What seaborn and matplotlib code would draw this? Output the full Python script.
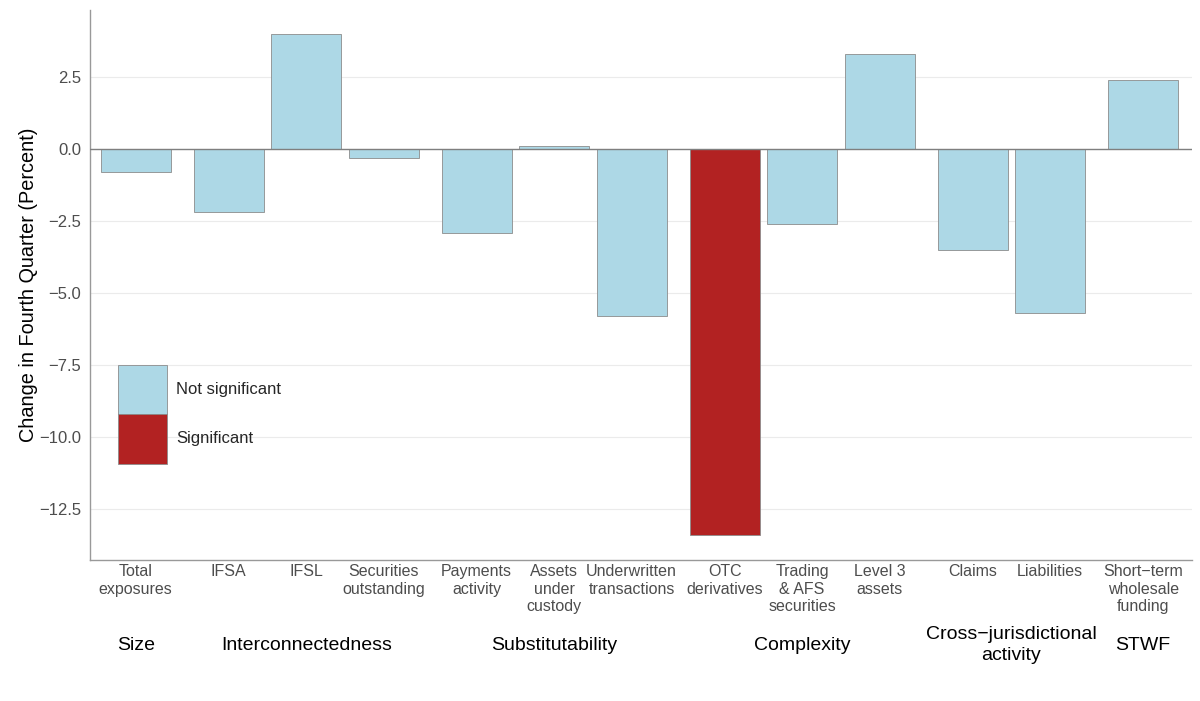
import numpy as np
import pandas as pd
import seaborn as sns
import matplotlib.pyplot as plt
from matplotlib.patches import Patch
from matplotlib import transforms

sns.set_theme(style='white')
plt.rcParams['font.family'] = ['Liberation Sans', 'DejaVu Sans']

categories = ['Total\nexposures', 'IFSA', 'IFSL', 'Securities\noutstanding',
              'Payments\nactivity', 'Assets\nunder\ncustody', 'Underwritten\ntransactions',
              'OTC\nderivatives', 'Trading\n& AFS\nsecurities', 'Level 3\nassets',
              'Claims', 'Liabilities', 'Short\u2212term\nwholesale\nfunding']
values = [-0.8, -2.2, 4.0, -0.3, -2.9, 0.1, -5.8, -13.4, -2.6, 3.3, -3.5, -5.7, 2.4]
significance = ['Not significant'] * 7 + ['Significant'] + ['Not significant'] * 5
group_of = [0, 1, 1, 1, 2, 2, 2, 3, 3, 3, 4, 4, 5]

groups = ['Size', 'Interconnectedness', 'Substitutability', 'Complexity',
          'Cross\u2212jurisdictional\nactivity', 'STWF']

yticks = [2.5, 0.0, -2.5, -5.0, -7.5, -10.0, -12.5]

colors = {'Not significant': '#ADD8E6', 'Significant': '#B22222'}

# small extra gap between indicator groups
gap = 0.2
pos = [i + gap * g for i, g in enumerate(group_of)]
df = pd.DataFrame({'pos': pos, 'cat': categories, 'val': values, 'sig': significance,
                   'grp': group_of})

fig = plt.figure(figsize=(12, 7.01), dpi=100)
ax = fig.add_axes([0.075, 0.2011, 0.9183, 0.7846])

ax.yaxis.grid(True, color='#EBEBEB', linewidth=0.8)
ax.set_axisbelow(True)
sns.barplot(data=df, x='pos', y='val', hue='sig', native_scale=True, dodge=False,
            palette=colors, saturation=1, edgecolor='#8C8C8C', linewidth=0.6,
            width=0.9, legend=False, ax=ax)
ax.axhline(0, color='#7F7F7F', linewidth=1.0, zorder=3)

ax.set_xlim(-0.59, 13.63)
ax.set_ylim(-14.27, 4.83)
ax.set_xticks(pos)
ax.set_xticklabels(categories)
ax.set_yticks(yticks)
ax.set_yticklabels([f'{t:.1f}'.replace('-', '\u2212') for t in yticks])
ax.tick_params(axis='x', length=0, labelsize=11.5, labelcolor='#4D4D4D', pad=3)
ax.tick_params(axis='y', length=0, labelsize=12, labelcolor='#4D4D4D', pad=6.5)
ax.set_xlabel('')
ax.set_ylabel('Change in Fourth Quarter (Percent)', fontsize=14.3, color='black')
ax.yaxis.set_label_coords(-0.047, 0.5)

for s in ['top', 'right']:
    ax.spines[s].set_visible(False)
for s in ['left', 'bottom']:
    ax.spines[s].set_color('#999999')
    ax.spines[s].set_linewidth(1.0)

trans = transforms.blended_transform_factory(ax.transData, ax.transAxes)
for g, name in enumerate(groups):
    members = df.loc[df['grp'] == g, 'pos']
    ax.text(members.mean(), -0.1545, name, transform=trans, ha='center', va='center',
            fontsize=14, color='black', linespacing=1.35)

handles = [Patch(facecolor=colors[k], edgecolor='#8C8C8C', linewidth=0.6) for k in colors]
ax.legend(handles, list(colors), loc='upper left', bbox_to_anchor=(0.0254, 0.3545),
          frameon=False, fontsize=12, handlelength=2.94, handleheight=4.17,
          labelspacing=0, handletextpad=0.54, borderpad=0, borderaxespad=0)

fig.savefig('out.png', dpi=100)
